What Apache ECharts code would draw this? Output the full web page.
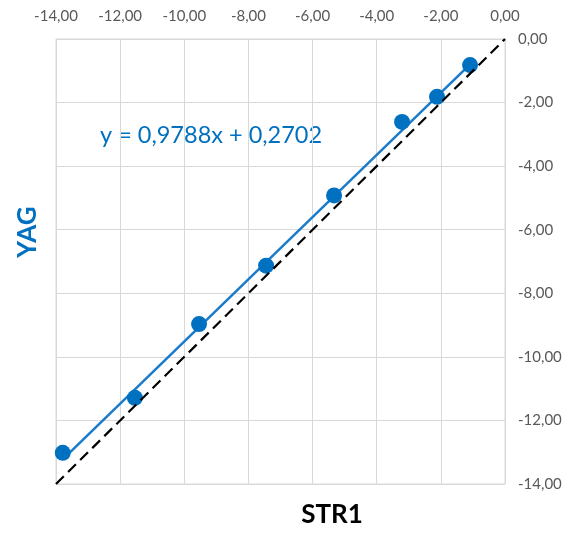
<!DOCTYPE html>
<html>
<head>
<meta charset="utf-8">
<script src="https://cdn.jsdelivr.net/npm/echarts@6/dist/echarts.min.js"></script>
<style>
  html, body { margin: 0; padding: 0; background: #fff; }
  #chart { width: 569px; height: 533px; }
</style>
</head>
<body>
<div id="chart"></div>
<script>
// STR1 vs YAG measurements
const str1 = [-13.79, -11.54, -9.54, -7.45, -5.33, -3.21, -2.12, -1.09];
const yag  = [-13.02, -11.29, -8.97, -7.13, -4.92, -2.61, -1.82, -0.82];

// Linear trend fitted to the measurements
const slope = 0.9788;
const intercept = 0.2702;

// Shared axis range for both axes
const axisMin = -14;
const axisMax = 0;
const axisStep = 2;

const blue = '#0070C0';
const labelFont = 'Lato, "Liberation Sans", sans-serif';

const fmt = v => v.toFixed(2).replace('.', ',');
const fmt4 = v => v.toFixed(4).replace('.', ',');
const eqText = 'y = ' + fmt4(slope) + 'x + ' + fmt4(intercept);

const points = str1.map((x, i) => [x, yag[i]]);
const xFirst = Math.min(...str1), xLast = Math.max(...str1);
const trend = [xFirst, xLast].map(x => [x, slope * x + intercept]);
const identity = [[axisMin, axisMin], [axisMax, axisMax]];

const chart = echarts.init(document.getElementById('chart'), null, { renderer: 'canvas' });
chart.setOption({
  backgroundColor: '#fff',
  animation: false,
  grid: {
    left: 56, right: 64, top: 39, bottom: 49,
    show: true, borderColor: '#D9D9D9', borderWidth: 1
  },
  xAxis: {
    type: 'value', position: 'top',
    min: axisMin, max: axisMax, interval: axisStep,
    axisLine: { show: false }, axisTick: { show: false },
    splitLine: { lineStyle: { color: '#D9D9D9', width: 1 } },
    axisLabel: { color: '#595959', fontFamily: labelFont, fontSize: 15, margin: 15, formatter: fmt }
  },
  yAxis: {
    type: 'value', position: 'right',
    min: axisMin, max: axisMax, interval: axisStep,
    axisLine: { show: false }, axisTick: { show: false },
    splitLine: { lineStyle: { color: '#D9D9D9', width: 1 } },
    axisLabel: { color: '#595959', fontFamily: labelFont, fontSize: 15, margin: 13, formatter: fmt }
  },
  series: [
    {
      name: 'trend', type: 'line', data: trend,
      symbol: 'none', silent: true,
      lineStyle: { color: '#1A7BCB', width: 2.5 }, z: 2
    },
    {
      name: 'YAG', type: 'scatter', data: points,
      symbol: 'circle', symbolSize: 16,
      itemStyle: { color: blue, opacity: 1 }, z: 3
    },
    {
      name: 'y = x', type: 'line', data: identity,
      symbol: 'none', silent: true,
      lineStyle: { color: '#000', width: 2.2, type: [11, 6] }, z: 4
    }
  ],
  graphic: [
    {
      type: 'text', left: 100, top: 123,
      style: { text: eqText, fill: blue, font: '23.5px ' + labelFont }
    },
    {
      type: 'text', x: 28, y: 232, rotation: Math.PI / 2,
      style: { text: 'YAG', fill: blue, font: 'bold 26px ' + labelFont, align: 'center', verticalAlign: 'middle' }
    },
    {
      type: 'text', x: 332, y: 515,
      style: { text: 'STR1', fill: '#000', font: 'bold 26px ' + labelFont, align: 'center', verticalAlign: 'middle' }
    }
  ]
});
</script>
</body>
</html>
